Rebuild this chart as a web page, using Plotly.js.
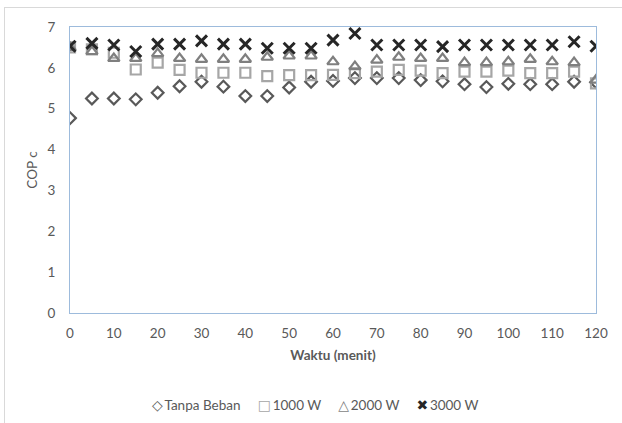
<!DOCTYPE html>
<html>
<head>
<meta charset="utf-8">
<script src="https://cdn.plot.ly/plotly-3.0.1.min.js"></script>
<style>
  html, body { margin: 0; padding: 0; background: #fff; }
  #wrap { position: relative; width: 622px; height: 423px; overflow: hidden; }
  #frame { position: absolute; left: 4px; top: 7px; width: 640px; height: 440px;
           border-left: 1px solid #d9d9d9; border-top: 1px solid #d9d9d9; pointer-events: none; }
  #chart { position: absolute; left: 0; top: 0; width: 622px; height: 423px; }
</style>
</head>
<body>
<div id="wrap">
  <div id="chart"></div>
  <div id="frame"></div>
</div>
<script>
const waktu = [0, 5, 10, 15, 20, 25, 30, 35, 40, 45, 50, 55, 60, 65, 70, 75, 80, 85, 90, 95, 100, 105, 110, 115, 120];
const tanpaBeban = [4.77, 5.25, 5.25, 5.23, 5.39, 5.55, 5.66, 5.54, 5.31, 5.31, 5.52, 5.66, 5.68, 5.75, 5.75, 5.75, 5.70, 5.67, 5.60, 5.53, 5.61, 5.60, 5.60, 5.66, 5.65];
const w1000 = [6.50, 6.45, 6.37, 5.96, 6.13, 5.95, 5.88, 5.88, 5.88, 5.80, 5.82, 5.82, 5.83, 5.87, 5.91, 5.95, 5.93, 5.87, 5.91, 5.91, 5.93, 5.87, 5.87, 5.91, 5.62];
const w2000 = [6.50, 6.40, 6.23, 6.23, 6.35, 6.23, 6.21, 6.21, 6.21, 6.26, 6.29, 6.29, 6.15, 6.03, 6.19, 6.26, 6.23, 6.23, 6.13, 6.13, 6.15, 6.21, 6.15, 6.13, 5.70];
const w3000 = [6.53, 6.60, 6.56, 6.40, 6.58, 6.58, 6.66, 6.58, 6.58, 6.48, 6.48, 6.48, 6.68, 6.84, 6.56, 6.56, 6.56, 6.52, 6.56, 6.56, 6.56, 6.56, 6.56, 6.64, 6.53];
const seriesNames = ['Tanpa Beban', '1000 W', '2000 W', '3000 W'];
const xTicks = [0, 10, 20, 30, 40, 50, 60, 70, 80, 90, 100, 110, 120];
const yTicks = [0, 1, 2, 3, 4, 5, 6, 7];

const font = 'Lato, Carlito, Calibri, sans-serif';
const textColor = '#595959';
const colors = ['#595959', '#a6a6a6', '#7f7f7f', '#262626'];
const legendGlyphs = ['\u25C7', '\u25A1', '\u25B3', '\u2716'];

const traces = [
  { x: waktu, y: tanpaBeban, name: seriesNames[0], type: 'scatter', mode: 'markers',
    marker: { symbol: 'diamond-open', size: 9, color: colors[0], line: { width: 2.2, color: colors[0] } } },
  { x: waktu, y: w1000, name: seriesNames[1], type: 'scatter', mode: 'markers',
    marker: { symbol: 'square-open', size: 10, color: colors[1], line: { width: 2.2, color: colors[1] } } },
  { x: waktu, y: w2000, name: seriesNames[2], type: 'scatter', mode: 'markers',
    marker: { symbol: 'triangle-up-open', size: 10, color: colors[2], line: { width: 2.2, color: colors[2] } } },
  { x: waktu, y: w3000, name: seriesNames[3], type: 'scatter', mode: 'markers',
    marker: { symbol: 'x-thin-open', size: 11, color: colors[3], line: { width: 3, color: colors[3] } } }
];

// compact legend in the style of the original (symbol right before its label)
const gap = '\u00a0\u00a0\u00a0\u00a0\u00a0';
const legendText = seriesNames.map((n, i) =>
  '<span style="color:' + colors[i] + ';font-family:DejaVu Sans;font-weight:bold;font-size:14px">' +
  legendGlyphs[i] + '</span>\u2009' + n
).join(gap);

const layout = {
  width: 622, height: 423,
  margin: { l: 70, r: 26, t: 27, b: 110 },
  paper_bgcolor: '#ffffff', plot_bgcolor: '#ffffff',
  font: { family: font, size: 13, color: textColor },
  showlegend: false,
  annotations: [{
    xref: 'paper', yref: 'paper', x: 0.466, y: -0.322, xanchor: 'center', yanchor: 'middle',
    showarrow: false, text: legendText, font: { family: font, size: 13.5, color: textColor }
  }],
  xaxis: {
    range: [0, 120], tickvals: xTicks, ticktext: xTicks.map(String),
    showgrid: false, zeroline: false, showline: true, mirror: true,
    linecolor: '#9dbbdc', linewidth: 1, ticks: '', ticklabelstandoff: 8,
    tickfont: { family: font, size: 13.5, color: textColor },
    title: { text: '<b>Waktu (menit)</b>', standoff: 10, font: { family: font, size: 13.5, color: textColor } }
  },
  yaxis: {
    range: [0, 7], tickvals: yTicks, ticktext: yTicks.map(String),
    showgrid: false, zeroline: false, showline: true, mirror: true,
    linecolor: '#9dbbdc', linewidth: 1, ticks: '', ticklabelstandoff: 11,
    tickfont: { family: font, size: 13.5, color: textColor },
    title: { text: 'COP c', standoff: 6, font: { family: font, size: 13.5, color: textColor } }
  }
};

Plotly.newPlot('chart', traces, layout, { displayModeBar: false, staticPlot: true });
</script>
</body>
</html>
